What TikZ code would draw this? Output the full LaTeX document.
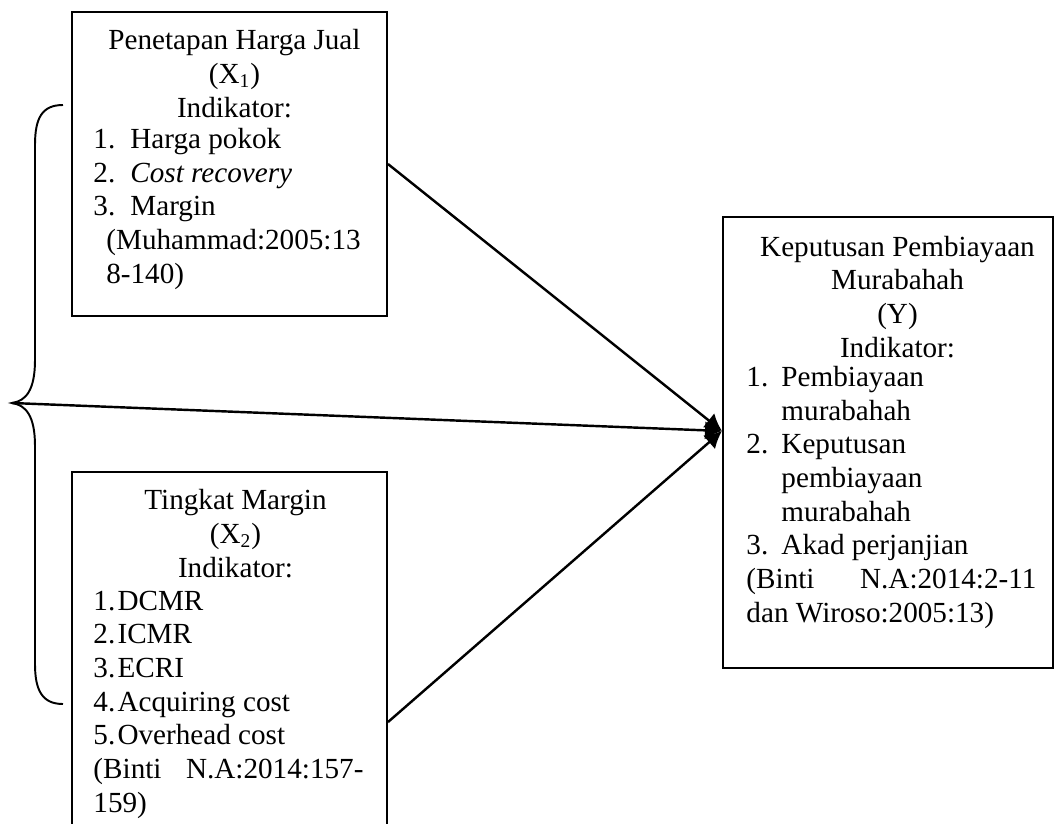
\documentclass[tikz,border=0pt]{standalone}
\usepackage{fontspec}
\setmainfont{Liberation Serif}
\usetikzlibrary{arrows.meta}

\begin{document}
\begin{tikzpicture}
[x=0.4115pt,y=-0.4115pt,
  boxdecorate/.style={shape=rectangle,draw,line width=0.8pt,inner sep=0pt},%
  textdecorate/.style={inner sep=0pt,font=\fontsize{12}{13.85}\selectfont},%
  linedecorate/.style={-{Latex[length=7pt,width=7.5pt]},line width=1pt}]
\useasboundingbox (0,0) rectangle (1059,823);
% boxes
\node (x1box) at (229.5,164) [boxdecorate,minimum width=129.6pt,minimum height=125.1pt] {};
\node (x2box) at (229.5,661) [boxdecorate,minimum width=129.6pt,minimum height=155.5pt] {};
\node (ybox) at (888,442.5) [boxdecorate,minimum width=135.8pt,minimum height=185.6pt] {};
\path (x2box.north east) ++(0,251) coordinate (x2out);
\path (ybox.north west) ++(0,215) coordinate (yin);
% texts (anchored at the baseline of the last line)
\node (x1title) at (234.5,117) [textdecorate,anchor=base,align=center]
  {Penetapan Harga Jual\\(X\textsubscript{1})\\Indikator:};
\node (x1list) at (93,283) [textdecorate,anchor=base west,align=left]
  {\makebox[15.2pt][l]{1.}Harga pokok\\
   \makebox[15.2pt][l]{2.}\textit{Cost recovery}\\
   \makebox[15.2pt][l]{3.}Margin\\
   \hspace*{5.3pt}(Muhammad:2005:13\\
   \hspace*{5.3pt}8-140)};
\node (x2title) at (235.5,577) [textdecorate,anchor=base,align=center]
  {Tingkat Margin\\(X\textsubscript{2})\\Indikator:};
\node (x2list) at (93,812) [textdecorate,anchor=base west,align=left]
  {\makebox[9.9pt][l]{1.}DCMR\\
   \makebox[9.9pt][l]{2.}ICMR\\
   \makebox[9.9pt][l]{3.}ECRI\\
   \makebox[9.9pt][l]{4.}Acquiring cost\\
   \makebox[9.9pt][l]{5.}Overhead cost\\
   \makebox[111.1pt][s]{(Binti\hfill N.A:2014:157-}\\
   159)};
\node (ytitle) at (897.5,357) [textdecorate,anchor=base,align=center]
  {Keputusan Pembiayaan\\Murabahah\\(Y)\\Indikator:};
\node (ylist) at (746,622) [textdecorate,anchor=base west,align=left]
  {\makebox[14.4pt][l]{1.}Pembiayaan\\
   \hspace*{14.4pt}murabahah\\
   \makebox[14.4pt][l]{2.}Keputusan\\
   \hspace*{14.4pt}pembiayaan\\
   \hspace*{14.4pt}murabahah\\
   \makebox[14.4pt][l]{3.}Akad perjanjian\\
   \makebox[119.3pt][s]{(Binti\hfill N.A:2014:2-11}\\
   dan Wiroso:2005:13)};
% brace
\coordinate (bracetip) at (12,403);
\draw[line width=0.8pt] (63,105) .. controls (42,105) and (35,118) .. (35,145)
  -- (35,360) .. controls (35,390) and (26,401) .. (bracetip)
  .. controls (26,405) and (35,416) .. (35,446)
  -- (35,664) .. controls (35,690) and (42,704) .. (63,704);
% arrows
\path
(x1box.east) edge[linedecorate] (yin)
(bracetip) edge[linedecorate] (yin)
(x2out) edge[linedecorate] (yin);
\end{tikzpicture}
\end{document}
